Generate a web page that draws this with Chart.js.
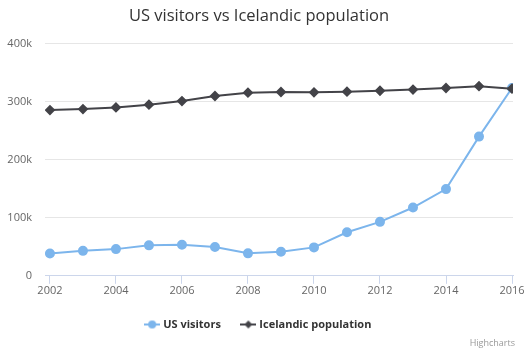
<!DOCTYPE html>
<html>
<head>
<meta charset="utf-8">
<script src="https://cdn.jsdelivr.net/npm/chart.js@4"></script>
<style>
  html, body { margin: 0; padding: 0; background: #fff; }
  #wrap { width: 525px; height: 350px; position: relative; }
</style>
</head>
<body>
<div id="wrap"><canvas id="chart" width="525" height="350"></canvas></div>
<script>
const years = [2002, 2003, 2004, 2005, 2006, 2007, 2008, 2009, 2010, 2011, 2012, 2013, 2014, 2015, 2016];
const usVisitors = [38400, 43000, 46000, 52500, 53600, 49600, 38700, 41500, 49000, 75000, 93000, 117700, 149500, 240000, 323800];
const icelandPop = [285700, 287400, 290300, 295000, 301300, 310000, 315700, 316900, 316300, 317500, 319000, 321000, 323800, 327000, 322600];
const yTicks = [0, 100000, 200000, 300000, 400000];
const xTicks = [2002, 2004, 2006, 2008, 2010, 2012, 2014, 2016];

const FONT = "'Open Sans', sans-serif";

// little legend symbols: line with marker in the middle
function legendSymbol(color, shape) {
    const c = document.createElement('canvas');
    c.width = 16; c.height = 12;
    const g = c.getContext('2d');
    g.strokeStyle = color; g.fillStyle = color; g.lineWidth = 2;
    g.beginPath(); g.moveTo(0, 6); g.lineTo(16, 6); g.stroke();
    g.beginPath();
    if (shape === 'circle') {
        g.arc(8, 6, 4, 0, Math.PI * 2);
    } else {
        g.moveTo(8, 2); g.lineTo(12, 6); g.lineTo(8, 10); g.lineTo(4, 6); g.closePath();
    }
    g.fill();
    return c;
}

const credits = {
    id: 'credits',
    afterDraw(chart) {
        const ctx = chart.ctx;
        ctx.save();
        ctx.font = "9px " + FONT;
        ctx.fillStyle = '#999999';
        ctx.textAlign = 'right';
        ctx.textBaseline = 'alphabetic';
        ctx.fillText('Highcharts', 515, 346);
        ctx.restore();
    }
};

const ctx = document.getElementById('chart').getContext('2d');
new Chart(ctx, {
    type: 'line',
    data: {
        datasets: [
            {
                label: 'US visitors',
                data: years.map((y, i) => ({ x: y, y: usVisitors[i] })),
                borderColor: '#7cb5ec',
                backgroundColor: '#7cb5ec',
                borderWidth: 2,
                pointStyle: 'circle',
                pointRadius: 4,
                pointHoverRadius: 5,
                tension: 0,
                order: 1,
            },
            {
                label: 'Icelandic population',
                data: years.map((y, i) => ({ x: y, y: icelandPop[i] })),
                borderColor: '#434348',
                backgroundColor: '#434348',
                borderWidth: 2,
                pointStyle: 'rectRot',
                pointRadius: 4,
                pointHoverRadius: 5,
                tension: 0,
                order: 0, // drawn on top, like the reference
            },
        ],
    },
    options: {
        responsive: false,
        animation: false,
        layout: {
            padding: { top: 0, bottom: 10, left: 5, right: 12 },
        },
        plugins: {
            title: {
                display: true,
                text: 'US visitors vs Icelandic population',
                color: '#333333',
                font: { size: 16.5, family: FONT, weight: 'normal' },
                padding: { top: 6, bottom: 18 },
            },
            legend: {
                position: 'bottom',
                labels: {
                    color: '#333333',
                    font: { size: 11, family: FONT, weight: 'bold' },
                    usePointStyle: true,
                    padding: 22,
                    generateLabels(chart) {
                        return chart.data.datasets.map((ds, i) => ({
                            text: ds.label,
                            fontColor: '#333333',
                            pointStyle: legendSymbol(ds.borderColor, i === 0 ? 'circle' : 'diamond'),
                            hidden: !chart.isDatasetVisible(i),
                            datasetIndex: i,
                        }));
                    },
                },
            },
            tooltip: { enabled: true },
        },
        scales: {
            x: {
                type: 'linear',
                min: 2001.85,
                max: 2016.03,
                afterBuildTicks(scale) {
                    scale.ticks = xTicks.map(v => ({ value: v }));
                },
                afterFit(scale) {
                    scale.paddingLeft = 0;
                    scale.paddingRight = 0;
                },
                ticks: {
                    color: '#666666',
                    font: { size: 11, family: FONT },
                    padding: 0,
                    maxRotation: 0,
                    autoSkip: false,
                    callback: v => String(v),
                },
                grid: {
                    display: true,
                    drawOnChartArea: false,
                    drawTicks: true,
                    tickLength: 8,
                    color: '#ccd6eb',
                },
                border: { display: true, color: '#ccd6eb', width: 1 },
            },
            y: {
                min: 0,
                max: 400000,
                afterBuildTicks(scale) {
                    scale.ticks = yTicks.map(v => ({ value: v }));
                },
                afterFit(scale) {
                    scale.width = 40;
                },
                ticks: {
                    color: '#666666',
                    font: { size: 11, family: FONT },
                    padding: 13,
                    callback: v => v === 0 ? '0' : (v / 1000) + 'k',
                },
                grid: {
                    color: '#e6e6e6',
                    drawTicks: false,
                },
                border: { display: false },
            },
        },
    },
    plugins: [credits],
});
</script>
</body>
</html>
